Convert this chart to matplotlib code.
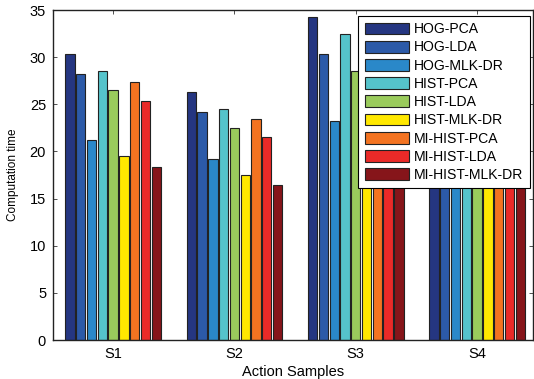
import numpy as np
import matplotlib.pyplot as plt

plt.rcParams['font.family'] = ['Liberation Sans', 'DejaVu Sans']

samples = ['S1', 'S2', 'S3', 'S4']
methods = ['HOG-PCA', 'HOG-LDA', 'HOG-MLK-DR', 'HIST-PCA', 'HIST-LDA',
           'HIST-MLK-DR', 'MI-HIST-PCA', 'MI-HIST-LDA', 'MI-HIST-MLK-DR']
colors = ['#253681', '#2c5aa8', '#2a88c9', '#55c3cb', '#9acb5c',
          '#ffe800', '#f37321', '#ea2a28', '#86151a']

# computation time per method, one value per sample (S1..S4)
hog_pca = [30.3, 26.3, 34.3, 32.0]
hog_lda = [28.2, 24.2, 30.3, 29.0]
hog_mlk = [21.2, 19.2, 23.2, 22.0]
hist_pca = [28.5, 24.5, 32.5, 30.5]
hist_lda = [26.5, 22.5, 28.5, 27.0]
hist_mlk = [19.5, 17.5, 21.5, 20.5]
mi_pca = [27.4, 23.4, 31.4, 29.0]
mi_lda = [25.4, 21.5, 27.5, 26.5]
mi_mlk = [18.4, 16.4, 20.5, 19.5]

series = [hog_pca, hog_lda, hog_mlk, hist_pca, hist_lda,
          hist_mlk, mi_pca, mi_lda, mi_mlk]

fig = plt.figure(figsize=(5.34, 3.79), dpi=100)
ax = fig.add_axes([0.0993, 0.1029, 0.8987, 0.8707])

x = np.arange(1, len(samples) + 1)
n = len(series)
group = 0.8
slot = group / n
for i, vals in enumerate(series):
    pos = x - group / 2 + slot * (i + 0.5)
    ax.bar(pos, vals, width=0.077, color=colors[i], edgecolor='#222222',
           linewidth=0.8, label=methods[i], zorder=2)

ax.set_xlim(0.505, 4.46)
ax.set_ylim(0, 35)
ax.set_xticks(x)
ax.set_xticklabels(samples)
ax.set_yticks(np.arange(0, 36, 5))
ax.tick_params(direction='in', length=3, width=0.6, top=True, right=True,
               labelsize=10.5, pad=5, color='#333333')
for s in ax.spines.values():
    s.set_linewidth(1.0)
    s.set_color('#222222')

ax.set_xlabel('Action Samples', fontsize=10.5, labelpad=3)
ax.set_ylabel('Computation time', fontsize=8.5, labelpad=8)

leg = ax.legend(loc='upper right', bbox_to_anchor=(0.994, 0.982),
                borderaxespad=0, fontsize=10.1, fancybox=False,
                edgecolor='black', framealpha=1, handlelength=3.2,
                handleheight=0.92, handletextpad=0.35, labelspacing=0.3,
                borderpad=0.45)
leg.get_frame().set_linewidth(0.8)
leg.set_zorder(5)

fig.savefig('out.png', dpi=100)
